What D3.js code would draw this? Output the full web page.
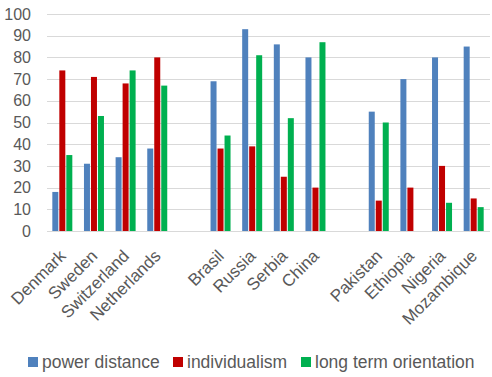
<!DOCTYPE html>
<html>
<head>
<meta charset="utf-8">
<script src="https://cdn.jsdelivr.net/npm/d3@7"></script>
<style>
  body { margin: 0; background: #fff; }
  text { font-family: "Liberation Sans", Arial, sans-serif; fill: #595959; }
</style>
</head>
<body>
<div id="chart"></div>
<script>
// countries, "" = empty slot between the groups
const categories = ["Denmark", "Sweden", "Switzerland", "Netherlands", "",
                    "Brasil", "Russia", "Serbia", "China", "",
                    "Pakistan", "Ethiopia", "Nigeria", "Mozambique"];
const powerDistance = [18, 31, 34, 38, null, 69, 93, 86, 80, null, 55, 70, 80, 85];
const individualism = [74, 71, 68, 80, null, 38, 39, 25, 20, null, 14, 20, 30, 15];
const longTerm      = [35, 53, 74, 67, null, 44, 81, 52, 87, null, 50, null, 13, 11];
const seriesNames = ["power distance", "individualism", "long term orientation"];
const colors = ["#4f81bd", "#c00000", "#00b050"];
const yTicks = [0, 10, 20, 30, 40, 50, 60, 70, 80, 90, 100];

const width = 492, height = 377;
const plotLeft = 47, plotRight = 490, plotTop = 14, plotBottom = 231;

const svg = d3.select("#chart").append("svg")
    .attr("width", width)
    .attr("height", height);

const x0 = d3.scaleBand()
    .domain(d3.range(categories.length))
    .range([plotLeft, plotRight]);

const x1 = d3.scaleBand()
    .domain(d3.range(seriesNames.length))
    .range([0, 21]);

const y = d3.scaleLinear().domain([0, 100]).range([plotBottom, plotTop]);

// rejilla
svg.append("g")
    .selectAll("line")
    .data(yTicks)
    .join("line")
    .attr("x1", plotLeft)
    .attr("x2", plotRight)
    .attr("y1", d => Math.round(y(d)) + 0.5)
    .attr("y2", d => Math.round(y(d)) + 0.5)
    .attr("stroke", "#d9d9d9")
    .attr("stroke-width", 1);

// etiquetas eje y
svg.append("g")
    .selectAll("text")
    .data(yTicks)
    .join("text")
    .attr("x", 31)
    .attr("y", d => y(d))
    .attr("dy", "0.35em")
    .attr("text-anchor", "end")
    .attr("font-size", "16px")
    .text(d => d);

const series = [powerDistance, individualism, longTerm];
const offset = (x0.bandwidth() - 21) / 2;

series.forEach((vals, s) => {
    svg.append("g")
        .selectAll("rect")
        .data(vals.map((v, i) => ({ v, i })).filter(d => d.v != null))
        .join("rect")
        .attr("x", d => x0(d.i) + offset + x1(s))
        .attr("width", x1.bandwidth() - 1)
        .attr("y", d => y(d.v))
        .attr("height", d => y(0) - y(d.v))
        .attr("fill", colors[s]);
});

// etiquetas eje x rotadas
svg.append("g")
    .selectAll("text")
    .data(categories.map((c, i) => ({ c, i })).filter(d => d.c !== ""))
    .join("text")
    .attr("transform", d => `translate(${x0(d.i) + x0.bandwidth() / 2 + 4}, 257) rotate(-45)`)
    .attr("text-anchor", "end")
    .attr("font-size", "17px")
    .text(d => d.c);

// leyenda
const legendX = [28, 173, 301];
const legend = svg.append("g");
seriesNames.forEach((name, i) => {
    legend.append("rect")
        .attr("x", legendX[i])
        .attr("y", 357)
        .attr("width", 10)
        .attr("height", 10)
        .attr("fill", colors[i]);
    legend.append("text")
        .attr("x", legendX[i] + 14)
        .attr("y", 368)
        .attr("font-size", "17.5px")
        .text(name);
});
</script>
</body>
</html>
